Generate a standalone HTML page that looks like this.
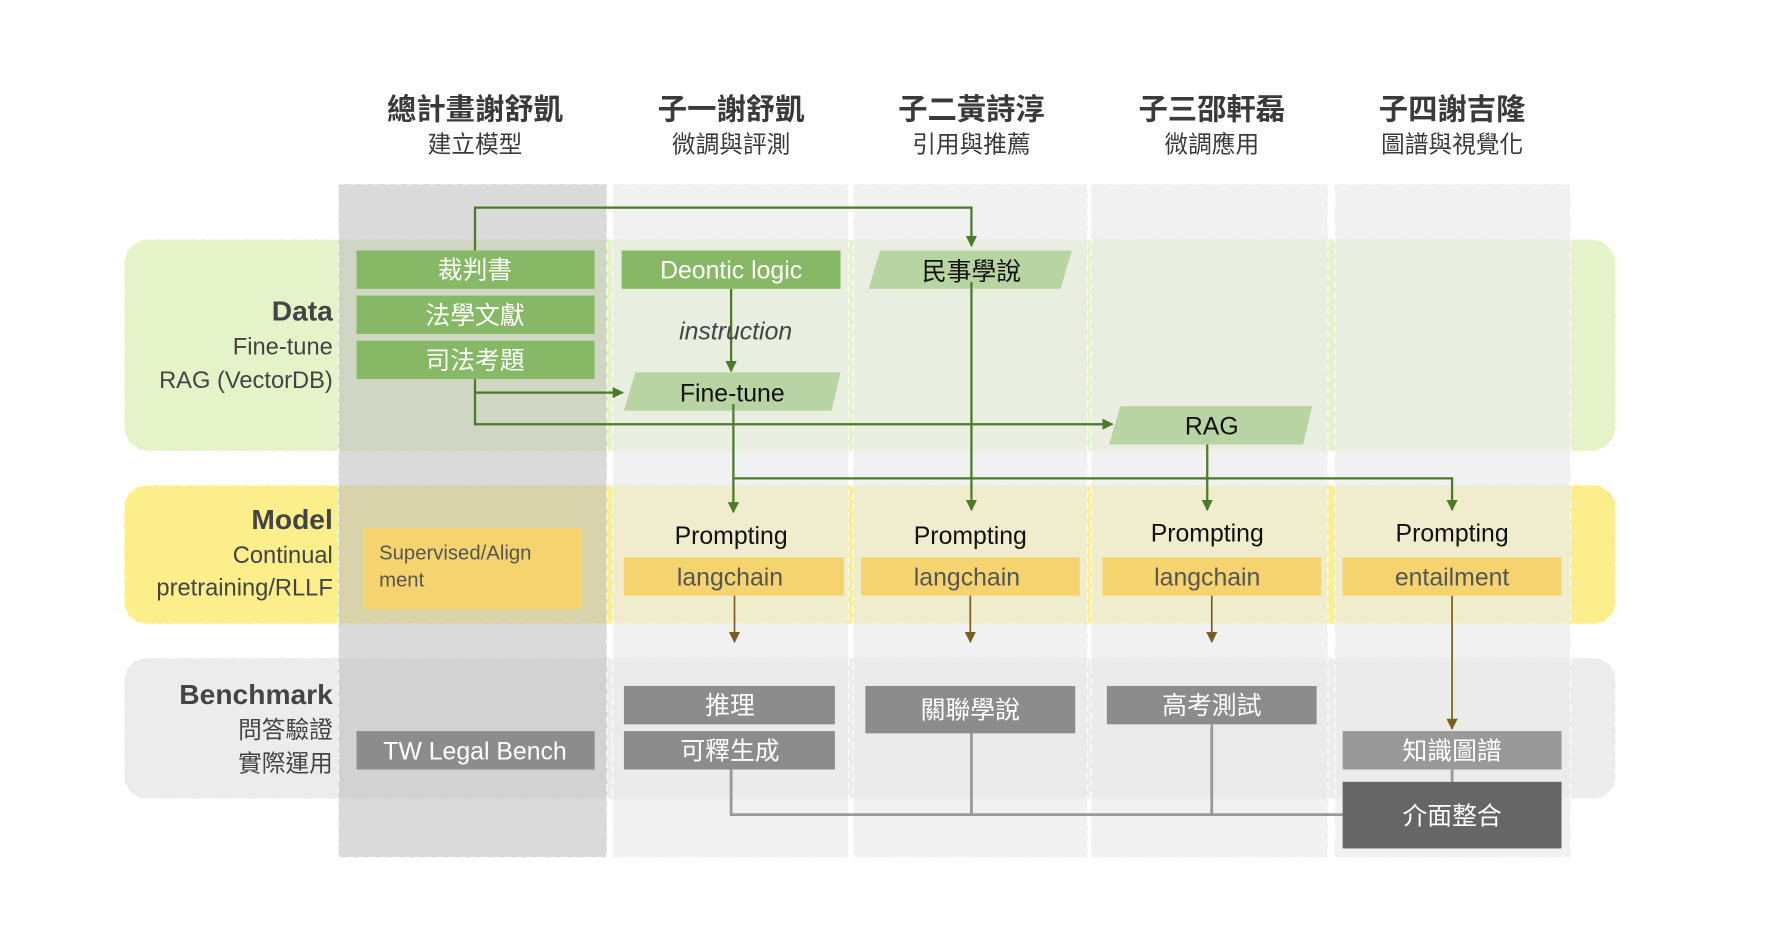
<!DOCTYPE html>
<html><head><meta charset="utf-8"><style>
html,body{margin:0;padding:0;background:#fff;}
svg{display:block;}
text{font-family:"Liberation Sans","Noto Sans CJK TC",sans-serif;}
</style></head><body>
<svg width="1768" height="950" viewBox="0 0 1567 842" preserveAspectRatio="none" xmlns="http://www.w3.org/2000/svg">
<defs>
<marker id="ag" markerWidth="10" markerHeight="10" refX="9" refY="5" orient="auto" markerUnits="userSpaceOnUse"><path d="M0,0 L10,5 L0,10 z" fill="#4a7a2a"/></marker>
<marker id="ab" markerWidth="10" markerHeight="10" refX="9" refY="5" orient="auto" markerUnits="userSpaceOnUse"><path d="M0,0 L10,5 L0,10 z" fill="#7a5f1c"/></marker>
</defs>
<rect width="1567" height="842" fill="#fff"/>
<rect x="110" y="212" width="1322" height="188" rx="22" fill="#e5f4c8" stroke="#fff" stroke-dasharray="6 4"/>
<rect x="110" y="430" width="1322" height="123" rx="20" fill="#fbee8b" stroke="#fff" stroke-dasharray="6 4"/>
<rect x="110" y="583" width="1322" height="125" rx="20" fill="#ececec" stroke="#fff" stroke-dasharray="6 4"/>
<rect x="300" y="163" width="238" height="597" fill="rgba(192,192,192,0.59)" stroke="#fff" stroke-dasharray="6 4"/>
<rect x="543" y="163" width="209" height="597" fill="rgba(235,235,235,0.7)" stroke="#fff" stroke-dasharray="6 4"/>
<rect x="756" y="163" width="208" height="597" fill="rgba(235,235,235,0.7)" stroke="#fff" stroke-dasharray="6 4"/>
<rect x="967" y="163" width="210" height="597" fill="rgba(235,235,235,0.7)" stroke="#fff" stroke-dasharray="6 4"/>
<rect x="1183" y="163" width="209" height="597" fill="rgba(235,235,235,0.7)" stroke="#fff" stroke-dasharray="6 4"/>
<g text-anchor="middle" fill="#3a3a3a">
<text x="421" y="106" font-size="26" font-weight="bold">總計畫謝舒凱</text>
<text x="421" y="135" font-size="21">建立模型</text>
<text x="648" y="106" font-size="26" font-weight="bold">子一謝舒凱</text>
<text x="648" y="135" font-size="21">微調與評測</text>
<text x="861" y="106" font-size="26" font-weight="bold">子二黃詩淳</text>
<text x="861" y="135" font-size="21">引用與推薦</text>
<text x="1074" y="106" font-size="26" font-weight="bold">子三邵軒磊</text>
<text x="1074" y="135" font-size="21">微調應用</text>
<text x="1287" y="106" font-size="26" font-weight="bold">子四謝吉隆</text>
<text x="1287" y="135" font-size="21">圖譜與視覺化</text>
</g>
<g text-anchor="end" fill="#444">
<text x="295" y="284" font-size="25" font-weight="bold">Data</text>
<text x="295" y="314" font-size="21">Fine-tune</text>
<text x="295" y="344" font-size="21">RAG (VectorDB)</text>
<text x="295" y="469" font-size="25" font-weight="bold">Model</text>
<text x="295" y="499" font-size="21">Continual</text>
<text x="295" y="528" font-size="21">pretraining/RLLF</text>
<text x="295" y="624" font-size="25" font-weight="bold">Benchmark</text>
<text x="295" y="654" font-size="21">問答驗證</text>
<text x="295" y="684" font-size="21">實際運用</text>
</g>
<g stroke="#4a7a2a" stroke-width="2" fill="none">
<path d="M421,222 V184 H861 V218" marker-end="url(#ag)"/>
<path d="M421,336 V348 H552" marker-end="url(#ag)"/>
<path d="M421,348 V376 H986" marker-end="url(#ag)"/>
<path d="M648,256 V329" marker-end="url(#ag)"/>
<path d="M650,364 V454" marker-end="url(#ag)"/>
<path d="M650,424 H1287 V452" marker-end="url(#ag)"/>
<path d="M861,256 V452" marker-end="url(#ag)"/>
<path d="M1070,394 V452" marker-end="url(#ag)"/>
</g>
<g fill="#86b865">
<rect x="316" y="222" width="211" height="34"/>
<rect x="316" y="262" width="211" height="34"/>
<rect x="316" y="302" width="211" height="34"/>
<rect x="551" y="222" width="194" height="34"/>
</g>
<g fill="#b8d4a3">
<polygon points="780,222 950,222 940,256 770,256"/>
<polygon points="563,330 745,330 737,364 553,364"/>
<polygon points="993,360 1163,360 1155,394 983,394"/>
</g>
<g stroke="#4a7a2a" stroke-width="2"><path d="M861,250 V256"/><path d="M650,358 V364"/></g>
<g text-anchor="middle" font-size="22">
<text x="421" y="247" fill="#fff">裁判書</text>
<text x="421" y="287" fill="#fff">法學文獻</text>
<text x="421" y="327" fill="#fff">司法考題</text>
<text x="648" y="247" fill="#fff">Deontic logic</text>
<text x="861" y="248" fill="#111">民事學說</text>
<text x="649" y="356" fill="#111">Fine-tune</text>
<text x="1074" y="385" fill="#111">RAG</text>
<text x="652" y="301" fill="#444" font-style="italic">instruction</text>
</g>
<g fill="#f5d470">
<rect x="322" y="468" width="194" height="72"/>
<rect x="553" y="494" width="195" height="34"/>
<rect x="763" y="494" width="194" height="34"/>
<rect x="977" y="494" width="194" height="34"/>
<rect x="1190" y="494" width="194" height="34"/>
</g>
<g font-size="18" fill="#555"><text x="336" y="496">Supervised/Align</text><text x="336" y="520">ment</text></g>
<g text-anchor="middle" font-size="22">
<text x="648" y="482" fill="#111">Prompting</text>
<text x="860" y="482" fill="#111">Prompting</text>
<text x="1070" y="480" fill="#111">Prompting</text>
<text x="1287" y="480" fill="#111">Prompting</text>
<text x="647" y="519" fill="#555">langchain</text>
<text x="857" y="519" fill="#555">langchain</text>
<text x="1070" y="519" fill="#555">langchain</text>
<text x="1287" y="519" fill="#555">entailment</text>
</g>
<g stroke="#7a5f1c" stroke-width="1.5" fill="none">
<path d="M651,528 V569" marker-end="url(#ab)"/>
<path d="M860,528 V569" marker-end="url(#ab)"/>
<path d="M1074,528 V569" marker-end="url(#ab)"/>
<path d="M1287,528 V646" marker-end="url(#ab)"/>
</g>
<g stroke="#999" stroke-width="2.5" fill="none">
<path d="M648,682 V722 H1190"/><path d="M861,650 V722"/><path d="M1074,642 V722"/><path d="M1287,682 V693"/>
</g>
<g fill="#8c8c8c">
<rect x="553" y="608" width="187" height="34"/>
<rect x="553" y="648" width="187" height="34"/>
<rect x="767" y="608" width="186" height="42"/>
<rect x="981" y="608" width="186" height="34"/>
<rect x="316" y="648" width="211" height="34"/>
<rect x="1190" y="648" width="194" height="34" fill="#999"/>
<rect x="1190" y="693" width="194" height="59" fill="#666"/>
</g>
<g text-anchor="middle" font-size="22" fill="#fff">
<text x="647" y="633">推理</text>
<text x="647" y="673">可釋生成</text>
<text x="860" y="637">關聯學說</text>
<text x="1074" y="633">高考測試</text>
<text x="421" y="673">TW Legal Bench</text>
<text x="1287" y="673">知識圖譜</text>
<text x="1287" y="731">介面整合</text>
</g>
</svg>
</body></html>
